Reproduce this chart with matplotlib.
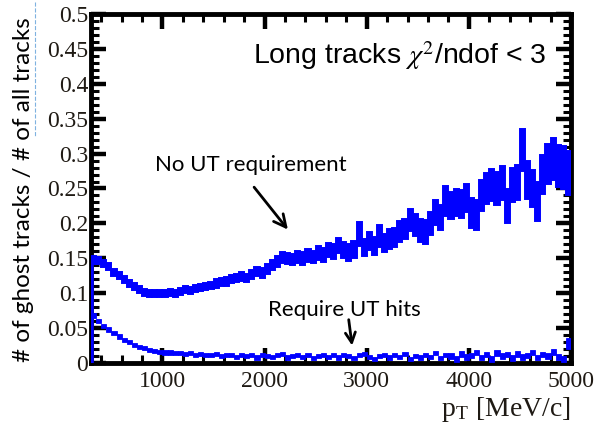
import numpy as np
import matplotlib.pyplot as plt
from matplotlib.ticker import MultipleLocator, FormatStrFormatter
from matplotlib.lines import Line2D

# pT binning: 50 MeV bins from 300 to 5000 MeV/c
edges = np.arange(300, 5001, 50)

# ghost rate without UT requirement (value and error per bin)
no_ut = [0.148, 0.147, 0.143, 0.138, 0.130, 0.125, 0.119, 0.114, 0.109, 0.105,
         0.101, 0.100, 0.099, 0.100, 0.100, 0.101, 0.099, 0.103, 0.105, 0.104,
         0.107, 0.108, 0.110, 0.111, 0.114, 0.116, 0.117, 0.120, 0.122, 0.124,
         0.122, 0.127, 0.131, 0.129, 0.135, 0.140, 0.146, 0.151, 0.150, 0.148,
         0.152, 0.150, 0.154, 0.152, 0.157, 0.155, 0.162, 0.160, 0.168, 0.162,
         0.158, 0.163, 0.185, 0.165, 0.175, 0.168, 0.182, 0.172, 0.178, 0.180,
         0.189, 0.192, 0.205, 0.198, 0.190, 0.188, 0.200, 0.215, 0.208, 0.232,
         0.226, 0.230, 0.228, 0.236, 0.215, 0.212, 0.240, 0.250, 0.255, 0.250,
         0.258, 0.225, 0.255, 0.258, 0.305, 0.262, 0.250, 0.232, 0.270, 0.285,
         0.292, 0.282, 0.280, 0.272]
no_ut_err = [0.006, 0.005, 0.005, 0.005, 0.005, 0.005, 0.005, 0.005, 0.005, 0.005,
             0.005, 0.005, 0.005, 0.005, 0.005, 0.005, 0.005, 0.005, 0.005, 0.005,
             0.005, 0.005, 0.005, 0.005, 0.006, 0.006, 0.006, 0.006, 0.006, 0.006,
             0.006, 0.006, 0.007, 0.007, 0.007, 0.007, 0.008, 0.008, 0.008, 0.008,
             0.009, 0.009, 0.009, 0.009, 0.010, 0.010, 0.010, 0.011, 0.011, 0.011,
             0.012, 0.012, 0.017, 0.012, 0.013, 0.013, 0.016, 0.013, 0.014, 0.014,
             0.015, 0.015, 0.016, 0.016, 0.016, 0.017, 0.017, 0.018, 0.018, 0.022,
             0.019, 0.019, 0.020, 0.020, 0.021, 0.021, 0.022, 0.022, 0.023, 0.023,
             0.024, 0.024, 0.025, 0.025, 0.030, 0.027, 0.026, 0.028, 0.028, 0.029,
             0.030, 0.030, 0.031, 0.032]

# ghost rate requiring UT hits
req_ut = [0.068, 0.060, 0.053, 0.048, 0.043, 0.038, 0.033, 0.030, 0.026, 0.023,
          0.021, 0.019, 0.017, 0.016, 0.015, 0.015, 0.014, 0.014, 0.013, 0.014,
          0.012, 0.013, 0.012, 0.011, 0.013, 0.010, 0.012, 0.011, 0.009, 0.012,
          0.010, 0.011, 0.008, 0.012, 0.010, 0.009, 0.011, 0.013, 0.008, 0.010,
          0.012, 0.009, 0.011, 0.007, 0.010, 0.012, 0.009, 0.011, 0.008, 0.012,
          0.010, 0.007, 0.011, 0.013, 0.009, 0.006, 0.010, 0.012, 0.008, 0.011,
          0.009, 0.013, 0.006, 0.010, 0.008, 0.012, 0.009, 0.014, 0.007, 0.011,
          0.010, 0.006, 0.013, 0.009, 0.011, 0.015, 0.008, 0.012, 0.006, 0.014,
          0.010, 0.012, 0.007, 0.013, 0.009, 0.011, 0.015, 0.008, 0.012, 0.010,
          0.016, 0.009, 0.006, 0.028]
req_ut_err = [0.004, 0.003, 0.003, 0.003, 0.003, 0.003, 0.003, 0.003, 0.003, 0.003,
              0.003, 0.003, 0.003, 0.003, 0.003, 0.003, 0.003, 0.003, 0.003, 0.003,
              0.003, 0.003, 0.003, 0.003, 0.003, 0.003, 0.003, 0.003, 0.003, 0.003,
              0.003, 0.003, 0.003, 0.003, 0.003, 0.003, 0.003, 0.003, 0.003, 0.003,
              0.003, 0.003, 0.003, 0.003, 0.003, 0.003, 0.003, 0.003, 0.003, 0.003,
              0.003, 0.003, 0.003, 0.003, 0.003, 0.003, 0.003, 0.003, 0.003, 0.003,
              0.003, 0.003, 0.003, 0.003, 0.003, 0.003, 0.003, 0.003, 0.003, 0.003,
              0.004, 0.004, 0.004, 0.004, 0.004, 0.004, 0.004, 0.004, 0.004, 0.004,
              0.004, 0.004, 0.004, 0.004, 0.004, 0.004, 0.004, 0.004, 0.004, 0.004,
              0.004, 0.004, 0.004, 0.008]

BLUE = '#0000ff'
TICK_COLOR = '#1f1a14'

plt.rcParams['mathtext.fontset'] = 'stix'

fig = plt.figure(figsize=(5.96, 4.33), dpi=100)
ax = fig.add_axes([91 / 596, 70 / 433, 480 / 596, 349 / 433])

centers = (edges[:-1] + edges[1:]) / 2
width = 50


def draw_hist(vals, errs, lw):
    vals = np.array(vals)
    errs = np.array(errs)
    ax.bar(centers, 2 * errs, bottom=vals - errs, width=width,
           color=BLUE, edgecolor=BLUE, linewidth=lw, zorder=3)


draw_hist(no_ut, no_ut_err, 1.4)
draw_hist(req_ut, req_ut_err, 0.6)
# histogram left edge drawn down to zero
ax.vlines(edges[0], 0, no_ut[0], color=BLUE, linewidth=4, zorder=3)

ax.set_xlim(300, 5000)
ax.set_ylim(0, 0.5)

ax.xaxis.set_major_locator(MultipleLocator(1000))
ax.xaxis.set_minor_locator(MultipleLocator(200))
ax.yaxis.set_major_locator(MultipleLocator(0.05))
ax.yaxis.set_minor_locator(MultipleLocator(0.01))
ax.yaxis.set_major_formatter(FormatStrFormatter('%g'))

ax.tick_params(which='both', direction='in', top=True, right=True,
               color='black')
ax.tick_params(which='major', length=11, width=3.2)
ax.tick_params(which='minor', length=5.5, width=2.2)
ax.tick_params(axis='both', labelsize=17, labelcolor=TICK_COLOR)
ax.tick_params(axis='y', pad=2)
ax.tick_params(axis='x', pad=6)
for lab in ax.get_xticklabels() + ax.get_yticklabels():
    lab.set_fontfamily('Liberation Serif')
for sp in ax.spines.values():
    sp.set_linewidth(3.5)

ax.set_ylabel('# of ghost tracks / # of all tracks', fontsize=17.5,
              fontfamily='Lato')
ax.yaxis.set_label_coords(-0.118, 0.496)
ax.set_xlabel(r'p$_\mathregular{T}$ [MeV/c]', fontsize=20,
              fontfamily='Liberation Serif', color=TICK_COLOR, loc='right',
              labelpad=2)

ax.text(4760, 0.441, r'Long tracks $\chi^2$/ndof < 3', fontsize=20.5,
        fontfamily='Liberation Sans', ha='right', va='center')
ax.text(930, 0.284, 'No UT requirement', fontsize=16,
        fontfamily='Lato', ha='left', va='center')
ax.text(2035, 0.076, 'Require UT hits', fontsize=16,
        fontfamily='Lato', ha='left', va='center')

ax.annotate('', xy=(2245, 0.188), xytext=(1880, 0.255),
            arrowprops=dict(arrowstyle='->', color='black', lw=2,
                            mutation_scale=22))
ax.annotate('', xy=(2860, 0.021), xytext=(2820, 0.066),
            arrowprops=dict(arrowstyle='->', color='black', lw=2,
                            mutation_scale=18))

# faint dashed guide left over next to the y label
fig.add_artist(Line2D([35 / 596, 35 / 596], [1 - 2 / 433, 1 - 137 / 433],
                      color='#7fb2e0', linestyle='--', linewidth=0.8))

fig.savefig('out.png', dpi=100)
